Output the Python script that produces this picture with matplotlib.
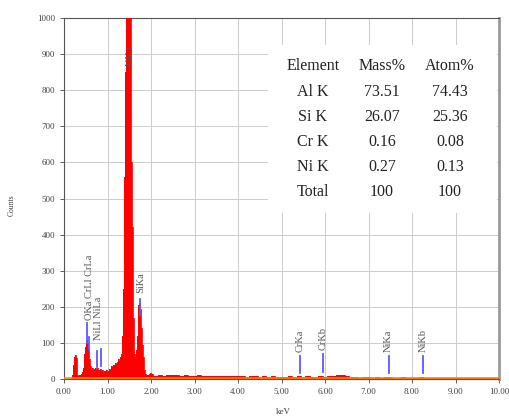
import numpy as np
import matplotlib as mpl
mpl.use('Agg')
import matplotlib.pyplot as plt
from matplotlib.patches import Rectangle

# spectrum, fine part (keV, counts)
energy_low = [0.00, 0.16, 0.18, 0.20, 0.22, 0.24, 0.26, 0.28, 0.30, 0.32, 0.34, 0.36, 0.38,
              0.40, 0.42, 0.44, 0.46, 0.48, 0.50, 0.52, 0.54, 0.56, 0.58, 0.60, 0.62, 0.64,
              0.66, 0.68, 0.70, 0.72, 0.74, 0.76, 0.78, 0.80, 0.82, 0.84, 0.86, 0.88, 0.90,
              0.92, 0.94, 0.96, 0.98, 1.00, 1.02, 1.04, 1.06, 1.08, 1.10, 1.12, 1.14, 1.16,
              1.18, 1.20, 1.22, 1.24, 1.26, 1.28, 1.30, 1.32, 1.34, 1.36, 1.38, 1.40, 1.42,
              1.44, 1.46, 1.48, 1.50, 1.52, 1.54, 1.56, 1.58, 1.60, 1.62, 1.64, 1.66, 1.68,
              1.70, 1.72, 1.74, 1.76, 1.78, 1.80, 1.82, 1.84, 1.86, 1.88, 1.90, 1.92, 1.94,
              1.96, 1.98]
counts_low = [0, 0, 2, 10, 40, 62, 66, 58, 35, 12, 8, 10, 12,
              15, 20, 30, 45, 70, 90, 108, 100, 85, 55, 35, 28, 25,
              30, 24, 27, 30, 25, 28, 30, 26, 24, 28, 22, 25, 20,
              22, 18, 22, 25, 20, 22, 28, 25, 30, 35, 32, 38, 40,
              45, 42, 48, 52, 55, 50, 60, 70, 120, 250, 430, 560, 850,
              1200, 1400, 1600, 1500, 1150, 820, 600, 420, 170, 70, 60, 80, 120,
              140, 205, 210, 195, 140, 95, 60, 40, 25, 15, 12, 10, 12,
              14, 18]

# spectrum, coarse part
energy_high = [2.0, 2.1, 2.2, 2.3, 2.4, 2.5, 2.6, 2.7, 2.8, 2.9, 3.0, 3.1, 3.2, 3.3, 3.4,
               3.5, 3.6, 3.7, 3.8, 3.9, 4.0, 4.1, 4.2, 4.3, 4.4, 4.5, 4.6, 4.7, 4.8, 4.9,
               5.0, 5.1, 5.2, 5.3, 5.4, 5.5, 5.6, 5.7, 5.8, 5.9, 6.0, 6.1, 6.2, 6.3, 6.4,
               6.5, 6.6, 6.7, 6.8, 6.9, 7.0, 7.1, 7.2, 7.3, 7.4, 7.5, 7.6, 7.7, 7.8, 7.9,
               8.0, 8.1, 8.2, 8.3, 8.4, 8.5, 8.6, 8.7, 8.8, 8.9, 9.0, 9.1, 9.2, 9.3, 9.4,
               9.5, 9.6, 9.7, 9.8, 9.9, 10.0]
counts_high = [13, 8, 10, 9, 11, 10, 12, 9, 10, 8, 9, 10, 8, 9, 7,
               9, 8, 7, 8, 9, 7, 8, 6, 7, 8, 6, 7, 6, 7, 5,
               6, 5, 7, 6, 8, 6, 7, 5, 6, 7, 6, 8, 9, 12, 10,
               7, 5, 6, 4, 5, 6, 4, 5, 4, 5, 6, 4, 3, 5, 4,
               4, 3, 5, 4, 3, 4, 3, 4, 3, 3, 4, 3, 3, 4, 3,
               3, 3, 2, 3, 3, 3]

# line markers (blue ticks)
marker_keV = [0.52, 0.575, 0.75, 0.84, 1.75, 5.43, 5.96, 7.46, 8.26]
marker_bottom = [100, 80, 34, 37, 177, 17, 19, 17, 17]
marker_top = [156, 117, 77, 83, 221, 64, 68, 64, 64]

# line labels
label_text = ['OKa CrLl CrLa', 'NiLl NiLa', 'AlKa', 'SiKa', 'CrKa', 'CrKb', 'NiKa', 'NiKb']
label_keV = [0.58, 0.80, 1.52, 1.76, 5.43, 5.96, 7.46, 8.26]
label_y = [163, 108, 862, 238, 75, 80, 75, 75]

# quantification table
tbl_header = ['Element', 'Mass%', 'Atom%']
tbl_element = ['Al K', 'Si K', 'Cr K', 'Ni K', 'Total']
tbl_mass = ['73.51', '26.07', '0.16', '0.27', '100']
tbl_atom = ['74.43', '25.36', '0.08', '0.13', '100']

plt.rcParams['font.family'] = ['Liberation Serif', 'DejaVu Serif']

fig = plt.figure(figsize=(5.1, 4.2), dpi=100)
ax = fig.add_axes([64 / 510, 1 - 379 / 420, 435 / 510, 361 / 420])

e = np.array(energy_low + energy_high)
c = np.array(counts_low + counts_high)
ax.fill_between(e, 0, c, step='mid', color='#ff0000', lw=0, zorder=3)
ax.step(e, c, where='mid', color='#ff0000', lw=0.6, zorder=3)
ax.plot([0, 10], [1.5, 1.5], color='#ff8c00', lw=1.2, zorder=4)

for x, b, t in zip(marker_keV, marker_bottom, marker_top):
    ax.plot([x, x], [b, t], color='#5a5aff', lw=1.3, zorder=5)
for name, x, ly in zip(label_text, label_keV, label_y):
    ax.text(x, ly, name, rotation=90, ha='center', va='bottom', fontsize=7.5,
            color='#555555', zorder=6)

ax.set_xlim(0, 10)
ax.set_ylim(0, 1000)
ax.set_xticks(np.arange(0, 11, 1))
ax.set_xticklabels(['%.2f' % v for v in range(11)])
ax.set_yticks(np.arange(0, 1001, 100))
ax.tick_params(labelsize=6.5, colors='#444444', length=3, width=0.6)
ax.grid(color='#cccccc', lw=0.7, zorder=0)
ax.set_axisbelow(True)
for s in ['left', 'bottom', 'top']:
    ax.spines[s].set_color('#555555')
    ax.spines[s].set_linewidth(0.8)
ax.spines['right'].set_color('#999999')
ax.spines['right'].set_linewidth(2)

ax.add_patch(Rectangle(((268 - 64) / 435, (379 - 213) / 361), (497 - 268) / 435, (213 - 45) / 361,
                       transform=ax.transAxes, facecolor='white', edgecolor='none', zorder=2))

fig.text(12 / 510, 1 - 205 / 420, 'Counts', rotation=90, ha='center', va='center', fontsize=5.5, color='#444444')
fig.text(283 / 510, 1 - 412 / 420, 'keV', ha='center', va='center', fontsize=6.5, color='#444444')

col_x = [313, 382, 450]
row_y = [66, 92, 117, 142, 167, 192]
for j, h in enumerate(tbl_header):
    fig.text(col_x[j] / 510, 1 - row_y[0] / 420, h, ha='center', va='center', fontsize=11.5, color='#222222')
for i in range(len(tbl_element)):
    for j, val in enumerate([tbl_element[i], tbl_mass[i], tbl_atom[i]]):
        fig.text(col_x[j] / 510, 1 - row_y[i + 1] / 420, val, ha='center', va='center', fontsize=11.5, color='#222222')

plt.savefig('out.png', dpi=100)
plt.close()
